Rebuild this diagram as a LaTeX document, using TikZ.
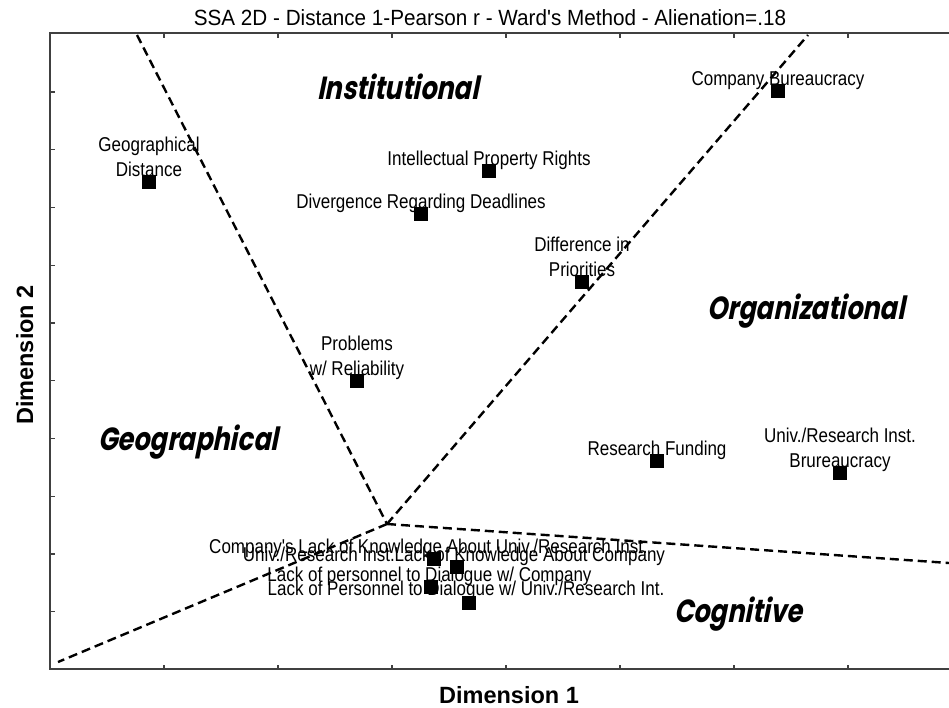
\documentclass[tikz,border=0pt]{standalone}
\usepackage{fontspec}
\setmainfont{Liberation Sans}
\newfontfamily\labfont[FakeStretch=0.85]{Liberation Sans}
\newfontfamily\titlefont[FakeStretch=0.94]{Liberation Sans}
\newfontfamily\regfont[FakeSlant=0.2,FakeStretch=0.8]{Poppins}

\begin{document}
\begin{tikzpicture}[x=1pt,y=-1pt,label distance=-1.5pt,
        item/.style={rectangle,fill=black,minimum size=14pt,inner sep=0pt},
        lab/.style={font=\labfont\fontsize{20}{25}\selectfont,inner sep=0pt,align=center,text depth=0pt},
        region/.style={font=\regfont\bfseries\fontsize{32}{32}\selectfont,anchor=base},
        axislab/.style={font=\bfseries\fontsize{23.5}{26}\selectfont,anchor=base},
        border/.style={draw=black!75,line width=1.2pt},
        cut/.style={dash pattern=on 9pt off 5pt,line width=2.4pt}]
        \useasboundingbox (0,0) rectangle (949,707);

        % frame and ticks
        \draw[border] (949,33) -- (50,33) -- (50,669) -- (949,669);
        \foreach \k in {0,...,9}
            \draw[border] (50,92+57.75*\k) -- ++(4.5,0);
        \foreach \x in {164,278,...,848} {
            \draw[border] (\x,33)  -- ++(0,4.5);
            \draw[border] (\x,669) -- ++(0,-4.5);
        }

        \coordinate (J)  at (387,524);
        \coordinate (TL) at (137,35);
        \coordinate (TR) at (808,35);
        \coordinate (R)  at (949,563);
        \coordinate (BL) at (58,662);

        \draw[cut] (TL) -- (J);
        \draw[cut] (J)  -- (TR);
        \draw[cut] (J)  -- (R);
        \draw[cut] (J)  -- (BL);

        \node[font=\titlefont\fontsize{22}{26}\selectfont,anchor=base] (title) at (490,25)
            {SSA 2D - Distance 1-Pearson r - Ward's Method - Alienation=.18};
        \node[axislab]          (dim1) at (509,703) {Dimension 1};
        \node[axislab,rotate=90] (dim2) at (33,355) {Dimension 2};

        \node[region] (inst)  at (398,99)  {Institutional};
        \node[region] (org)   at (806,319) {Organizational};
        \node[region] (geo)   at (188,450) {Geographical};
        \node[region] (cogn)  at (738,622) {Cognitive};

        \node[item,label={[lab]above:Company Bureaucracy}]               (bureau)   at (778,91)  {};
        \node[item,label={[lab]above:{Geographical\\Distance}}]          (distance) at (149,182) {};
        \node[item,label={[lab]above:Intellectual Property Rights}]      (ipr)      at (489,171) {};
        \node[item,label={[lab]above:Divergence Regarding Deadlines}]    (deadline) at (421,214) {};
        \node[item,label={[lab]above:{Difference in\\Priorities}}]       (prio)     at (582,282) {};
        \node[item,label={[lab]above:{Problems\\w/ Reliability}}]        (reliab)   at (357,381) {};
        \node[item,label={[lab]above:Research Funding}]                  (funding)  at (657,461) {};
        \node[item,label={[lab]above:{Univ./Research Inst.\\Brureaucracy}}] (ubureau) at (840,473) {};

        \node[item,label={[lab,xshift=-5.5pt]above:Company's Lack of Knowledge About Univ./Research Inst.}] (lackc) at (434,559) {};
        \node[item,label={[lab,xshift=-3pt]above:Univ./Research Inst.Lack of Knowledge About Company}]   (lacku) at (457,567) {};
        \node[item,label={[lab,xshift=-1.5pt]above:Lack of personnel to Dialogue w/ Company}]            (persc) at (431,587) {};
        \node[item,label={[lab,xshift=-3pt,yshift=2pt]above:Lack of Personnel to Dialogue w/ Univ./Research Int.}] (persu) at (469,603) {};
    \end{tikzpicture}
\end{document}
